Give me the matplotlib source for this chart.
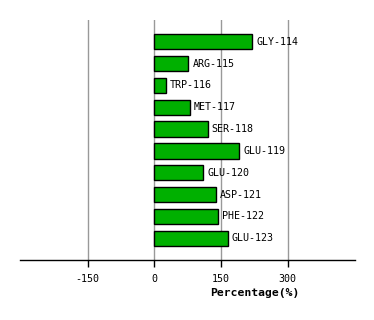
import matplotlib
matplotlib.use("Agg")
import matplotlib.pyplot as plt

residues = ["GLY-114", "ARG-115", "TRP-116", "MET-117", "SER-118",
            "GLU-119", "GLU-120", "ASP-121", "PHE-122", "GLU-123"]
values = [221, 77, 26, 80, 120, 191, 110, 138, 143, 165]
xticks = [-150, 0, 150, 300]

fig = plt.figure(figsize=(3.74, 3.2), dpi=100)
ax = fig.add_axes([20/374, 1-260/320, (354.7-20)/374, 240/320])

ypos = list(range(len(residues)))
ax.barh(ypos, values, height=0.7, color="#00b000", edgecolor="black", linewidth=1, zorder=3)
for y, v, lab in zip(ypos, values, residues):
    ax.text(v + 9, y, lab, va="center", ha="left", fontsize=7.2,
            family="DejaVu Sans Mono", zorder=4)

ax.set_xlim(-302, 451)
ax.set_ylim(10, -1)
ax.set_xticks(xticks)
ax.set_xticklabels([str(t) for t in xticks], fontsize=7.2, family="DejaVu Sans Mono")
ax.set_yticks([])
ax.grid(axis="x", color="#999999", linewidth=1, zorder=0)
for s in ["top", "right", "left"]:
    ax.spines[s].set_visible(False)
ax.spines["bottom"].set_linewidth(1)
ax.tick_params(axis="x", length=5, width=1, pad=5)
ax.set_xlabel("Percentage(%)", fontsize=8.2, family="DejaVu Sans Mono",
              fontweight="bold", labelpad=3)
ax.xaxis.set_label_coords((254.5-20)/334.7, -(288-260)/240, transform=ax.transAxes)

fig.savefig("out.png", dpi=100)
